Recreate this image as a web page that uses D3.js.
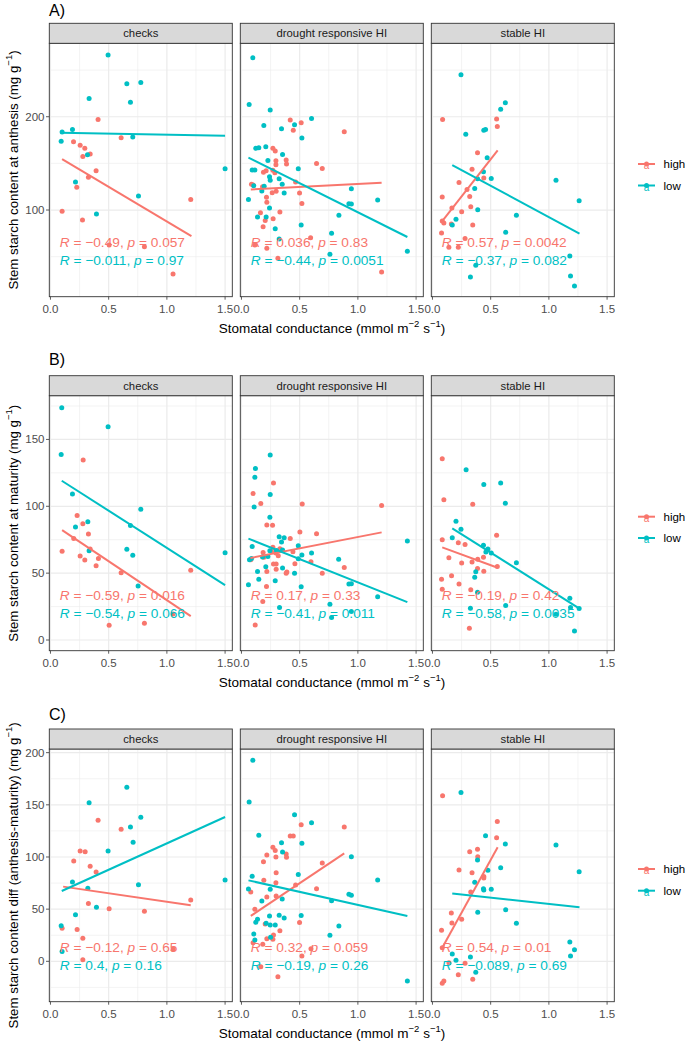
<!DOCTYPE html>
<html><head><meta charset="utf-8">
<script src="https://cdn.jsdelivr.net/npm/d3@7"></script>
<style>body{margin:0;background:#fff} text{font-family:"Liberation Sans",Arial,Helvetica,sans-serif}</style>
</head><body><svg id="c" width="685" height="1042"></svg>
<script>
// ---------- categories / ticks ----------
const facets = ["checks", "drought responsive HI", "stable HI"];
const groups = ["high", "low"];
const xTicks = [0, 0.5, 1, 1.5];
const xTickLabels = ["0.0", "0.5", "1.0", "1.5"];
const xMinor = [0.25, 0.75, 1.25];
const yTicksA = [100, 200], yMinorA = [50, 150, 250];
const yTicksB = [0, 50, 100, 150], yMinorB = [25, 75, 125, 175];
const yTicksC = [0, 50, 100, 150, 200], yMinorC = [-25, 25, 75, 125, 175];

// ---------- A) anthesis ----------
const checksA_high = [[0.409,197.1],[0.607,177.5],[0.198,173.2],[0.255,169.3],[0.295,166.1],[0.278,157.5],[0.341,160],[0.392,142.1],[0.326,135],[0.226,124.3],[0.10,98.6],[0.275,89.3],[1.205,111.4],[0.504,62.5],[0.807,60.7],[1.053,31.4]];
const checksA_low = [[0.495,266.1],[0.656,235.4],[0.776,236.8],[0.332,219.6],[0.687,215.4],[0.10,183.6],[0.189,186.4],[0.092,173.6],[0.707,178.2],[0.318,159.3],[0.215,130],[1.5,144.3],[0.756,115],[0.395,95.7]];
const droughtA_high = [[0.419,196.4],[0.513,193.6],[0.445,185.4],[0.883,183.9],[0.27,166.1],[0.29,163.2],[0.296,152.9],[0.296,148.6],[0.384,153.6],[0.387,149.3],[0.645,150],[0.694,144.6],[0.212,142.1],[0.189,140.4],[0.27,142.5],[0.287,140],[0.465,130],[0.086,127.5],[0.1,126.8],[0.181,125],[0.264,118.6],[0.298,120],[0.499,118.2],[0.215,113.6],[0.218,108.2],[0.519,107.1],[0.33,97.9],[0.163,97.1],[0.272,90.7],[0.204,88.9],[0.186,82.1],[0.594,70.4],[0.115,62.5],[0.218,58.9],[0.313,48.2],[1.204,33.6]];
const droughtA_low = [[0.0975,263.2],[0.066,213.2],[0.247,207.1],[0.602,198.2],[0.192,190.7],[0.344,187.1],[0.456,191.4],[0.519,177.1],[0.123,166.1],[0.149,166.8],[0.209,167.9],[0.227,153.2],[0.353,159.6],[0.488,144.3],[0.092,142.9],[0.115,142.9],[0.241,135.7],[0.247,131.8],[0.324,133.6],[0.35,127.5],[0.195,125.4],[0.106,126.1],[0.175,120.4],[0.367,118.2],[0.06,111.4],[0.944,122.9],[0.923,106.8],[0.944,106.4],[1.17,110.7],[0.241,102.1],[0.138,92.5],[0.212,92.5],[0.837,94.3],[0.513,83.9],[0.29,80],[0.774,75],[0.324,68.9],[0.76,52.5],[1.425,55.7]];
const stableA_high = [[0.087,197.1],[0.551,197.5],[0.557,189.6],[0.387,161.4],[0.34,143.6],[0.441,134.3],[0.228,129.6],[0.297,122.1],[0.084,113.9],[0.32,114.6],[0.167,102.1],[0.329,103.6],[0.251,98.2],[0.084,88.2],[0.098,86.1],[0.162,85],[0.346,83.9],[0.078,75.4],[0.28,69.6],[0.141,60],[0.222,60]];
const stableA_low = [[0.245,245],[0.626,215],[0.586,207.9],[0.441,185.4],[0.456,186.4],[0.286,181.1],[0.47,156.1],[0.438,141.1],[0.387,133.6],[0.505,133.9],[0.363,123.2],[1.061,131.8],[1.26,110],[0.389,100.4],[0.721,94.3],[0.202,90],[0.17,83.9],[0.629,76.1],[1.18,50.7],[0.372,40.7],[0.326,28.2],[1.186,29.3],[1.22,18.6]];
const lineA_high = [[0.1,154.6,1.211,72.1],[0.08,122.1,1.204,129.3],[0.084,88.2,0.56,163.9]];
const lineA_low = [[0.089,182.9,1.5,179.6],[0.06,156.1,1.425,71.1],[0.17,148.2,1.263,74.6]];
const rA_high = ["\u22120.49","0.036","0.57"], pA_high = ["0.057","0.83","0.0042"];
const rA_low = ["\u22120.011","\u22120.44","\u22120.37"], pA_low = ["0.97","0.0051","0.082"];

// ---------- B) maturity ----------
const checksB_high = [[0.281,134.6],[0.10,66.3],[0.229,93.2],[0.278,87],[0.326,79.2],[0.2,76],[0.255,62.8],[0.295,59.8],[0.341,68],[0.412,61],[0.392,55.6],[0.607,50.3],[1.205,52.1],[0.504,11],[0.807,12.5],[1.053,19.4]];
const checksB_low = [[0.097,173.7],[0.092,138.8],[0.495,159.5],[0.189,109.1],[0.776,97.7],[0.215,84.5],[0.321,88.5],[0.687,85.7],[0.332,66.8],[0.656,67.8],[0.707,63.3],[0.753,40.4],[1.5,65.3]];
const droughtB_high = [[0.275,117.5],[0.1,109.5],[0.166,102],[0.522,101.8],[1.204,100.5],[0.218,86],[0.267,85.8],[0.502,80.8],[0.645,79.5],[0.419,76],[0.27,69.3],[0.33,68.3],[0.186,65.5],[0.296,65],[0.442,66],[0.258,66.3],[0.192,61.8],[0.316,63],[0.597,58.5],[0.459,57],[0.275,56.8],[0.298,56.8],[0.08,60],[0.298,53],[0.218,51.3],[0.384,50],[0.39,50.8],[0.694,50],[0.883,54.3],[0.215,40],[0.183,28.8],[0.118,11.3]];
const droughtB_low = [[0.247,138.3],[0.12,128.3],[0.115,121.8],[0.247,108.8],[0.109,99.5],[0.244,91.8],[0.324,77.3],[0.367,76.5],[0.344,73.3],[0.092,70],[0.488,70.5],[0.244,66.8],[0.301,67],[0.353,67.3],[0.181,62],[0.227,62.5],[0.519,63.5],[0.602,65],[0.488,60.8],[0.069,60],[0.086,61],[0.835,60.3],[0.209,54.8],[0.353,53.8],[0.138,51.3],[0.456,50],[0.149,45.5],[0.29,44.3],[0.06,41.3],[0.513,39.8],[0.923,41.8],[0.944,42],[1.17,32.3],[0.76,26.8],[0.774,16.8],[0.327,24.3],[0.944,21.3],[1.425,74]];
const stableB_high = [[0.084,135.5],[0.098,104.8],[0.346,101.5],[0.551,78.3],[0.084,75],[0.222,72.8],[0.28,71.5],[0.141,61.5],[0.34,58.3],[0.389,60.3],[0.438,61.8],[0.251,57.5],[0.387,53.5],[0.441,51.5],[0.557,55],[0.164,48],[0.078,45.5],[0.228,41.8],[0.084,38],[0.329,37.5],[0.317,8.8]];
const stableB_low = [[0.289,127.3],[0.441,116.3],[0.586,117.5],[0.626,102.3],[0.202,88.8],[0.245,82.8],[0.17,76.5],[0.438,70.8],[0.476,68],[0.459,65.8],[0.505,65],[0.721,57.8],[0.372,51],[0.363,47],[0.387,35.8],[0.326,23.8],[0.629,25.8],[1.18,31.3],[1.186,24.3],[1.26,23.5],[1.061,19.3],[1.22,6.8]];
const lineB_high = [[0.1,82.2,1.205,17.9],[0.077,61.3,1.204,80.5],[0.084,69.3,0.56,54]];
const lineB_low = [[0.097,119.1,1.5,41.1],[0.06,75.8,1.425,28.3],[0.17,83.5,1.263,23.5]];
const rB_high = ["\u22120.59","0.17","\u22120.19"], pB_high = ["0.016","0.33","0.42"];
const rB_low = ["\u22120.54","\u22120.41","\u22120.58"], pB_low = ["0.066","0.011","0.0035"];

// ---------- C) difference ----------
const checksC_high = [[0.409,135.1],[0.607,126.5],[0.255,105.8],[0.298,105.1],[0.2,96.2],[0.341,91.1],[0.392,85.6],[0.326,55.3],[0.504,50.5],[0.807,47.9],[1.205,58.8],[0.10,31.6],[0.229,30.4],[0.278,22],[0.278,1.6],[1.053,11.8]];
const checksC_low = [[0.656,166.8],[0.332,152.1],[0.776,138],[0.687,128.8],[0.71,114.1],[0.495,105.8],[0.189,76],[0.321,70],[0.756,73.5],[1.5,78],[0.395,51.8],[0.215,44.7],[0.092,34.2],[0.10,9.3]];
const droughtC_high = [[0.513,131],[0.883,128.8],[0.419,120.1],[0.445,120.1],[0.27,109.3],[0.29,106.1],[0.384,102.9],[0.387,99.7],[0.218,101.9],[0.296,100],[0.189,95.5],[0.694,94.2],[0.298,85],[0.192,77.6],[0.296,75.4],[0.465,73.2],[0.645,69.6],[0.08,66.5],[0.218,61.7],[0.298,62.6],[0.115,49.8],[0.204,35.8],[0.499,37.1],[0.33,29.4],[0.275,25.2],[0.218,21.7],[0.27,21.1],[0.183,16.3],[0.1,17.9],[0.519,5.1],[0.166,-5.1],[0.313,-14.7],[0.597,12.1]];
const droughtC_low = [[0.0975,192.7],[0.066,152.7],[0.456,140.6],[0.602,132.9],[0.149,120.8],[0.344,113.7],[0.519,113.1],[0.353,104.8],[0.944,100.3],[0.092,81.5],[0.488,83.1],[1.17,78],[0.06,69.3],[0.247,69],[0.923,64.2],[0.944,63.3],[0.175,57.8],[0.35,59.7],[0.774,58.1],[0.241,43.5],[0.324,44.1],[0.367,41.5],[0.513,43.8],[0.123,37.4],[0.138,40.3],[0.212,36.4],[0.247,34.8],[0.29,34.8],[0.837,33.9],[0.106,26.2],[0.115,20.4],[0.76,24.9],[0.25,23],[1.425,-18.8]];
const stableC_high = [[0.087,158.8],[0.557,133.9],[0.551,118.5],[0.387,107.3],[0.32,105.1],[0.389,100.3],[0.228,87.5],[0.34,85],[0.441,81.2],[0.441,79.9],[0.329,66.5],[0.162,46.3],[0.167,36.7],[0.251,40.3],[0.078,29.7],[0.084,13.1],[0.141,-1.3],[0.28,-1.9],[0.222,-12.8],[0.346,-17.3],[0.084,-21.1],[0.098,-18.8]];
const stableC_low = [[0.245,161.7],[0.456,120.4],[0.626,112.5],[1.061,111.5],[0.387,97.1],[0.586,89.8],[0.476,87.2],[1.26,85.9],[0.363,75.7],[0.438,69.6],[0.441,68.4],[0.505,69],[0.629,49.5],[0.389,47],[0.721,36.4],[1.18,18.5],[1.22,11.2],[1.186,5.1],[0.17,7],[0.202,1],[0.326,4.2],[0.372,-10.5]];
const lineC_high = [[0.109,71.6,1.205,53.7],[0.08,43.5,0.883,103.5],[0.084,13.1,0.56,109.3]];
const lineC_low = [[0.097,67.4,1.5,138.3],[0.06,77.6,1.425,43.5],[0.17,64.9,1.263,51.8]];
const rC_high = ["\u22120.12","0.32","0.54"], pC_high = ["0.65","0.059","0.01"];
const rC_low = ["0.4","\u22120.19","\u22120.089"], pC_low = ["0.16","0.26","0.69"];

// ---------- drawing ----------
const colors = {high: "#F8766D", low: "#00BFC4"};
const svg = d3.select("#c");
svg.append("rect").attr("width", 685).attr("height", 1042).attr("fill", "#fff");

const panelLeft = [49.3, 240.3, 431.3], panelW = 183;

const rows = [
  {tag: "A)", tagY: 10, stripTop: 23.3, top: 43.3, bottom: 296.7, yDom: [7.1, 278.7], yTicks: yTicksA, yMinor: yMinorA,
   yTitle: "Stem starch content at anthesis (mg g", labelY: [66, 46.4], legY: [164, 185.5],
   pts: {high: [checksA_high, droughtA_high, stableA_high], low: [checksA_low, droughtA_low, stableA_low]},
   lines: {high: lineA_high, low: lineA_low}, r: {high: rA_high, low: rA_low}, p: {high: pA_high, low: pA_low}},
  {tag: "B)", tagY: 359, stripTop: 375.7, top: 395.7, bottom: 650.7, yDom: [-8.0, 182.7], yTicks: yTicksB, yMinor: yMinorB,
   yTitle: "Stem starch content at maturity (mg g", labelY: [33.8, 20], legY: [516.7, 538],
   pts: {high: [checksB_high, droughtB_high, stableB_high], low: [checksB_low, droughtB_low, stableB_low]},
   lines: {high: lineB_high, low: lineB_low}, r: {high: rB_high, low: rB_low}, p: {high: pB_high, low: pB_low}},
  {tag: "C)", tagY: 714, stripTop: 729, top: 749, bottom: 1001.7, yDom: [-38.7, 203.5], yTicks: yTicksC, yMinor: yMinorC,
   yTitle: "Stem starch content diff (anthesis-maturity) (mg g", labelY: [14, -3.5], legY: [869, 890.7],
   pts: {high: [checksC_high, droughtC_high, stableC_high], low: [checksC_low, droughtC_low, stableC_low]},
   lines: {high: lineC_high, low: lineC_low}, r: {high: rC_high, low: rC_low}, p: {high: pC_high, low: pC_low}}
];

rows.forEach(row => {
  const y = d3.scaleLinear().domain(row.yDom).range([row.bottom, row.top]);
  const tickY = row.bottom + 12.6, xTitleY = row.bottom + 31;
  // tag
  svg.append("text").attr("x", 49).attr("y", row.tagY).attr("dominant-baseline", "central")
    .attr("font-size", 16).attr("fill", "#000").text(row.tag);
  // y title
  const yc = (row.top + row.bottom) / 2;
  const yt = svg.append("text").attr("transform", `translate(13,${yc}) rotate(-90)`)
    .attr("text-anchor", "middle").attr("dominant-baseline", "central").attr("font-size", 13.3).attr("fill", "#000");
  yt.append("tspan").text(row.yTitle);
  yt.append("tspan").attr("font-size", 9.5).attr("dy", -5).text("\u22121");
  yt.append("tspan").attr("dy", 5).text(")");
  // y tick labels (left axis only)
  row.yTicks.forEach(t => {
    svg.append("text").attr("x", 44.5).attr("y", y(t)).attr("text-anchor", "end").attr("dominant-baseline", "central")
      .attr("font-size", 11.5).attr("fill", "#4D4D4D").text(t);
    svg.append("line").attr("x1", 46).attr("x2", panelLeft[0]).attr("y1", y(t)).attr("y2", y(t))
      .attr("stroke", "#333").attr("stroke-width", 0.8);
  });
  facets.forEach((f, i) => {
    const x = d3.scaleLinear().domain([-0.01, 1.562]).range([panelLeft[i], panelLeft[i] + panelW]);
    const g = svg.append("g");
    // grid
    row.yMinor.forEach(t => g.append("line").attr("x1", panelLeft[i]).attr("x2", panelLeft[i] + panelW)
      .attr("y1", y(t)).attr("y2", y(t)).attr("stroke", "#EBEBEB").attr("stroke-width", 0.6));
    xMinor.forEach(t => g.append("line").attr("x1", x(t)).attr("x2", x(t))
      .attr("y1", row.top).attr("y2", row.bottom).attr("stroke", "#EBEBEB").attr("stroke-width", 0.6));
    row.yTicks.forEach(t => g.append("line").attr("x1", panelLeft[i]).attr("x2", panelLeft[i] + panelW)
      .attr("y1", y(t)).attr("y2", y(t)).attr("stroke", "#EBEBEB").attr("stroke-width", 1.2));
    xTicks.forEach(t => g.append("line").attr("x1", x(t)).attr("x2", x(t))
      .attr("y1", row.top).attr("y2", row.bottom).attr("stroke", "#EBEBEB").attr("stroke-width", 1.2));
    // points
    groups.forEach(gr => {
      g.selectAll(null).data(row.pts[gr][i]).enter().append("circle")
        .attr("cx", d => x(d[0])).attr("cy", d => y(d[1])).attr("r", 2.5).attr("fill", colors[gr]);
    });
    // fit lines
    groups.forEach(gr => {
      const l = row.lines[gr][i];
      g.append("line").attr("x1", x(l[0])).attr("y1", y(l[1])).attr("x2", x(l[2])).attr("y2", y(l[3]))
        .attr("stroke", colors[gr]).attr("stroke-width", 2);
    });
    // stat labels
    groups.forEach((gr, k) => {
      const t = g.append("text").attr("x", x(0.08)).attr("y", y(row.labelY[k])).attr("dominant-baseline", "central")
        .attr("font-size", 13.7).attr("fill", colors[gr]);
      t.append("tspan").attr("font-style", "italic").text("R");
      t.append("tspan").text(" = " + row.r[gr][i] + ", ");
      t.append("tspan").attr("font-style", "italic").text("p");
      t.append("tspan").text(" = " + row.p[gr][i]);
    });
    // panel border
    g.append("rect").attr("x", panelLeft[i]).attr("y", row.top).attr("width", panelW).attr("height", row.bottom - row.top)
      .attr("fill", "none").attr("stroke", "#333").attr("stroke-width", 0.9);
    // strip
    g.append("rect").attr("x", panelLeft[i]).attr("y", row.stripTop).attr("width", panelW).attr("height", row.top - row.stripTop)
      .attr("fill", "#D9D9D9").attr("stroke", "#333").attr("stroke-width", 0.9);
    g.append("text").attr("x", panelLeft[i] + panelW / 2).attr("y", (row.stripTop + row.top) / 2)
      .attr("text-anchor", "middle").attr("dominant-baseline", "central").attr("font-size", 11.3).attr("fill", "#1A1A1A").text(f);
    // x axis
    xTicks.forEach((t, j) => {
      g.append("line").attr("x1", x(t)).attr("x2", x(t)).attr("y1", row.bottom).attr("y2", row.bottom + 3)
        .attr("stroke", "#333").attr("stroke-width", 0.8);
      g.append("text").attr("x", x(t)).attr("y", tickY).attr("text-anchor", "middle").attr("dominant-baseline", "central")
        .attr("font-size", 11.5).attr("fill", "#4D4D4D").text(xTickLabels[j]);
    });
  });
  // x title
  const xt = svg.append("text").attr("x", 332).attr("y", xTitleY).attr("text-anchor", "middle")
    .attr("dominant-baseline", "central").attr("font-size", 13.5).attr("fill", "#000");
  xt.append("tspan").text("Stomatal conductance (mmol m");
  xt.append("tspan").attr("font-size", 9.5).attr("dy", -5).text("\u22122");
  xt.append("tspan").attr("dy", 5).text(" s");
  xt.append("tspan").attr("font-size", 9.5).attr("dy", -5).text("\u22121");
  xt.append("tspan").attr("dy", 5).text(")");
  // legend
  groups.forEach((gr, k) => {
    const ly = row.legY[k];
    svg.append("text").attr("x", 646.5).attr("y", ly + 1.5).attr("text-anchor", "middle").attr("dominant-baseline", "central")
      .attr("font-size", 10).attr("fill", colors[gr]).text("a");
    svg.append("line").attr("x1", 638).attr("x2", 655).attr("y1", ly).attr("y2", ly).attr("stroke", colors[gr]).attr("stroke-width", 2);
    svg.append("circle").attr("cx", 646.5).attr("cy", ly).attr("r", 2.5).attr("fill", colors[gr]);
    svg.append("text").attr("x", 663.5).attr("y", ly).attr("dominant-baseline", "central").attr("font-size", 11.5)
      .attr("fill", "#000").text(gr);
  });
});
</script></body></html>
